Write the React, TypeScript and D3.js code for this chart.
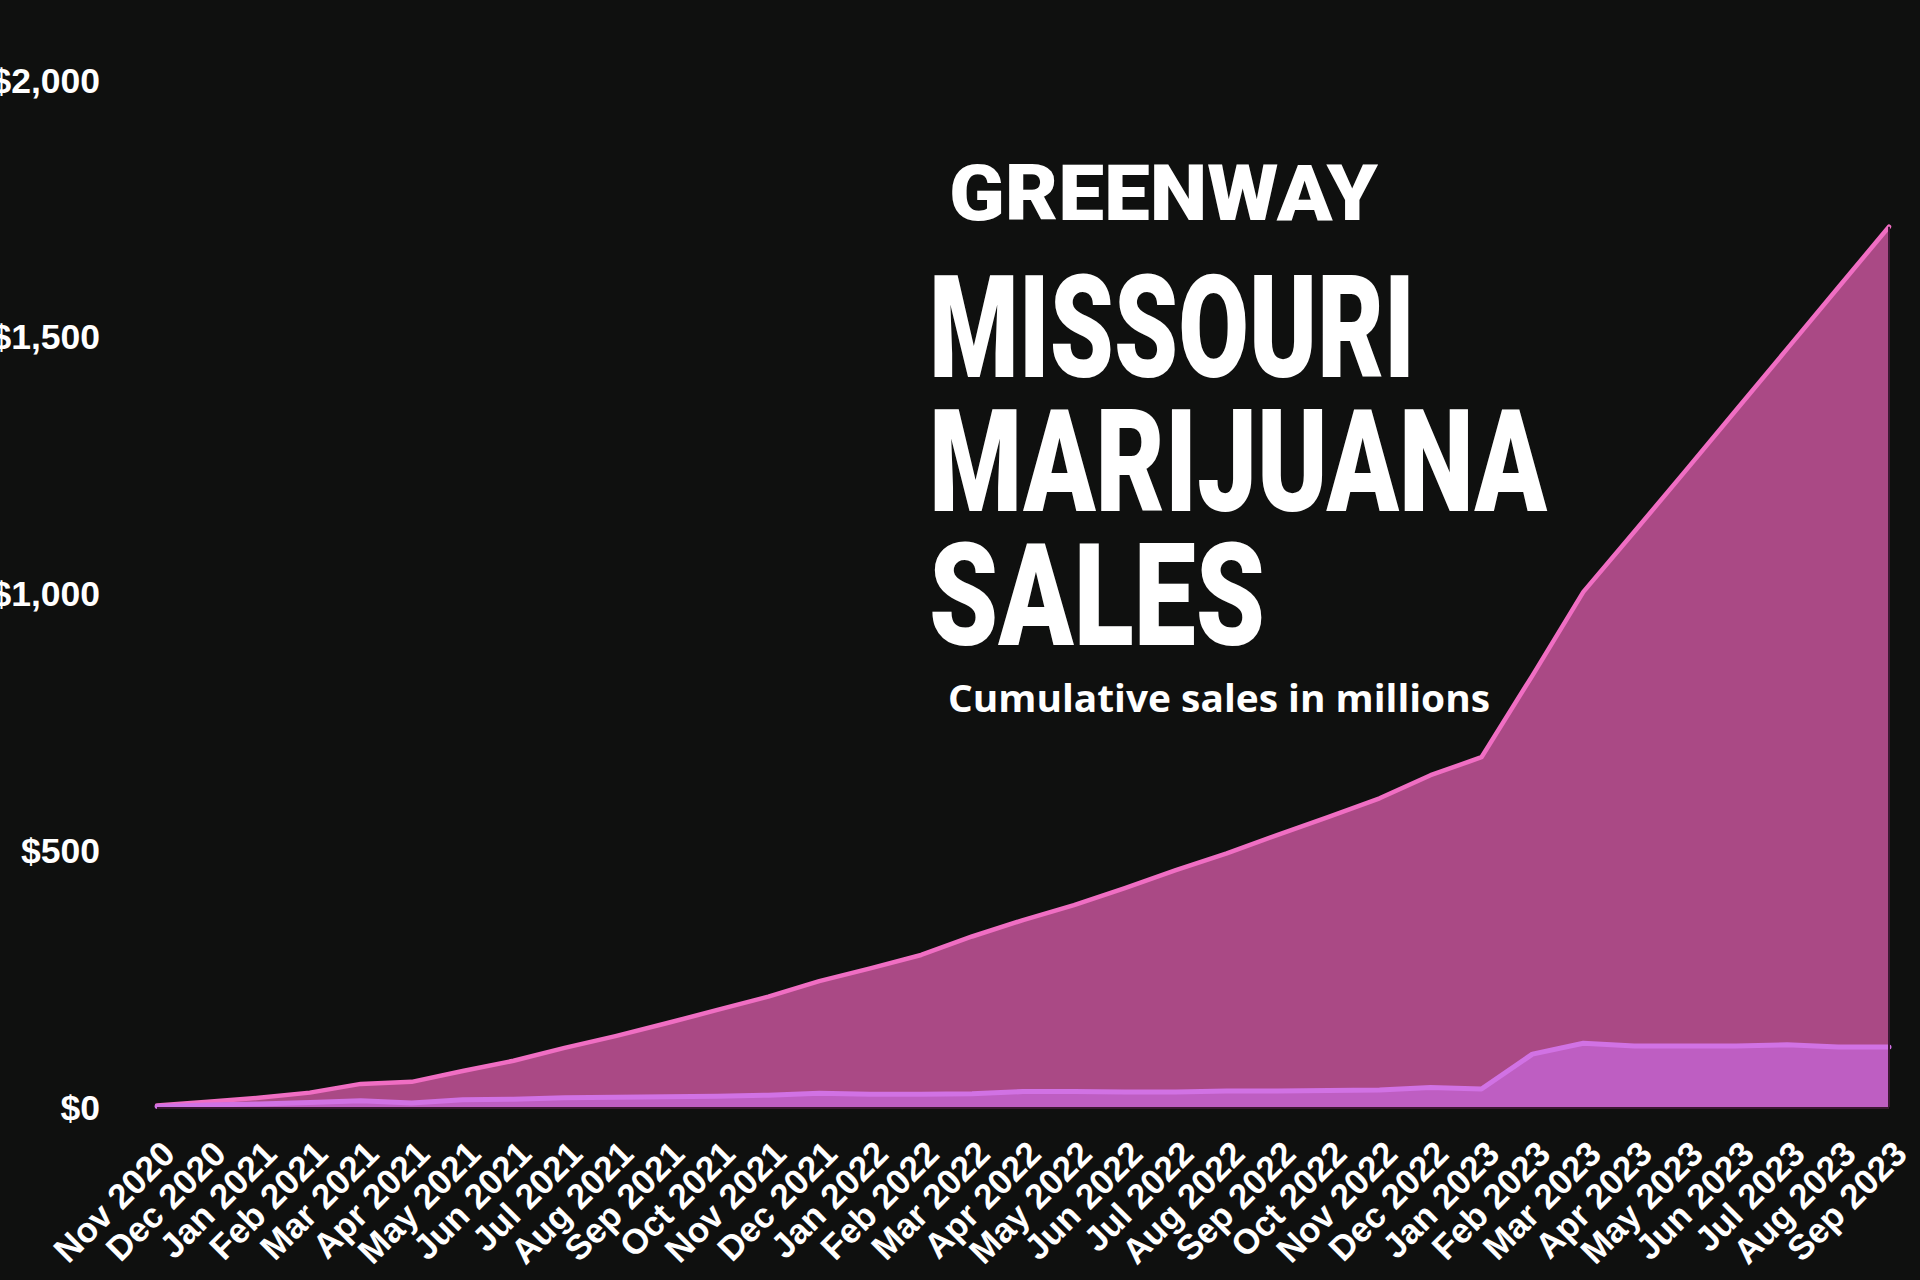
import React from "react";
import * as d3 from "d3";

const months = [
  "Nov 2020", "Dec 2020",
  "Jan 2021", "Feb 2021", "Mar 2021", "Apr 2021", "May 2021", "Jun 2021",
  "Jul 2021", "Aug 2021", "Sep 2021", "Oct 2021", "Nov 2021", "Dec 2021",
  "Jan 2022", "Feb 2022", "Mar 2022", "Apr 2022", "May 2022", "Jun 2022",
  "Jul 2022", "Aug 2022", "Sep 2022", "Oct 2022", "Nov 2022", "Dec 2022",
  "Jan 2023", "Feb 2023", "Mar 2023", "Apr 2023", "May 2023", "Jun 2023",
  "Jul 2023", "Aug 2023", "Sep 2023",
];

const totalSales = [
  3, 10, 18, 28, 45, 49, 70, 90, 115, 138, 163, 189, 215, 245, 270, 296, 332,
  364, 393, 426, 461, 494, 530, 565, 601, 646, 681, 840, 1003, 1120, 1238, 1357,
  1476, 1595, 1714,
];

const lowerSales = [
  1, 4, 6, 9, 12, 8, 14, 15, 18, 19, 20, 21, 23, 27, 25, 25, 26, 30, 30, 29,
  29, 31, 31, 32, 33, 38, 35, 103, 124, 119, 119, 119, 121, 117, 117,
];

const yTicks = [0, 500, 1000, 1500, 2000];

const W = 1920;
const H = 1280;

export default function App() {
  const x = d3.scalePoint<string>().domain(months).range([157, 1889]);
  const y = d3.scaleLinear().domain([0, 2000]).range([1107, 79.8]);
  const fmt = (v: number) => "$" + d3.format(",")(v);

  const area = (vals: number[]) =>
    d3
      .area<number>()
      .x((_, i) => x(months[i]) as number)
      .y0(y(0))
      .y1((d) => y(d))(vals) as string;
  const line = (vals: number[]) =>
    d3
      .line<number>()
      .x((_, i) => x(months[i]) as number)
      .y((d) => y(d))(vals) as string;

  const x0 = x(months[0]) as number;
  const x1 = x(months[months.length - 1]) as number;

  return (
    <svg
      width={W}
      height={H}
      style={{ position: "absolute", left: 0, top: 0, display: "block" }}
    >
      <rect x={0} y={0} width={W} height={H} fill="#0f100f" />

      {/* areas */}
      <path d={area(totalSales)} fill="#aa4985" />
      <path
        d={line(totalSales)}
        fill="none"
        stroke="#f06ec3"
        strokeWidth={4.5}
        strokeLinejoin="round"
        strokeLinecap="round"
      />
      <path d={area(lowerSales)} fill="#be5ec2" />
      <path
        d={line(lowerSales)}
        fill="none"
        stroke="#d172e4"
        strokeWidth={5}
        strokeLinejoin="round"
        strokeLinecap="round"
      />
      <line x1={x1} x2={x1} y1={y(totalSales[totalSales.length - 1])} y2={y(0)} stroke="#3a1832" strokeWidth={2} />
      <line x1={x0} x2={x1} y1={y(0) + 1} y2={y(0) + 1} stroke="#3a1832" strokeWidth={2} />

      {/* y axis labels */}
      {yTicks.map((t) => (
        <text
          key={t}
          x={100}
          y={y(t)}
          dy="0.36em"
          textAnchor="end"
          fill="#ffffff"
          fontFamily="'Liberation Sans', Arial, sans-serif"
          fontWeight={700}
          fontSize={35.5}
        >
          {fmt(t)}
        </text>
      ))}

      {/* x axis labels */}
      {months.map((m) => (
        <text
          key={m}
          transform={`translate(${(x(m) as number) + 20},1156) rotate(-45)`}
          textAnchor="end"
          fill="#ffffff"
          fontFamily="'Liberation Sans', Arial, sans-serif"
          fontWeight={700}
          fontSize={35}
        >
          {m}
        </text>
      ))}

      {/* titles */}
      <text
        x={949}
        y={220}
        fill="#ffffff"
        fontFamily="Roboto, sans-serif"
        fontWeight={900}
        fontSize={78}
        textLength={429}
        lengthAdjust="spacingAndGlyphs"
      >
        GREENWAY
      </text>
      <text
        x={929}
        y={377}
        fill="#ffffff"
        fontFamily="Roboto, sans-serif"
        fontWeight={900}
        fontSize={143}
        textLength={486}
        lengthAdjust="spacingAndGlyphs"
      >
        MISSOURI
      </text>
      <text
        x={929}
        y={511}
        fill="#ffffff"
        fontFamily="Roboto, sans-serif"
        fontWeight={900}
        fontSize={143}
        textLength={618}
        lengthAdjust="spacingAndGlyphs"
      >
        MARIJUANA
      </text>
      <text
        x={929}
        y={645}
        fill="#ffffff"
        fontFamily="Roboto, sans-serif"
        fontWeight={900}
        fontSize={143}
        textLength={336}
        lengthAdjust="spacingAndGlyphs"
      >
        SALES
      </text>
      <text
        x={948}
        y={712}
        fill="#ffffff"
        fontFamily="'Open Sans', sans-serif"
        fontWeight={700}
        fontSize={38}
        textLength={542}
        lengthAdjust="spacingAndGlyphs"
      >
        Cumulative sales in millions
      </text>
    </svg>
  );
}
